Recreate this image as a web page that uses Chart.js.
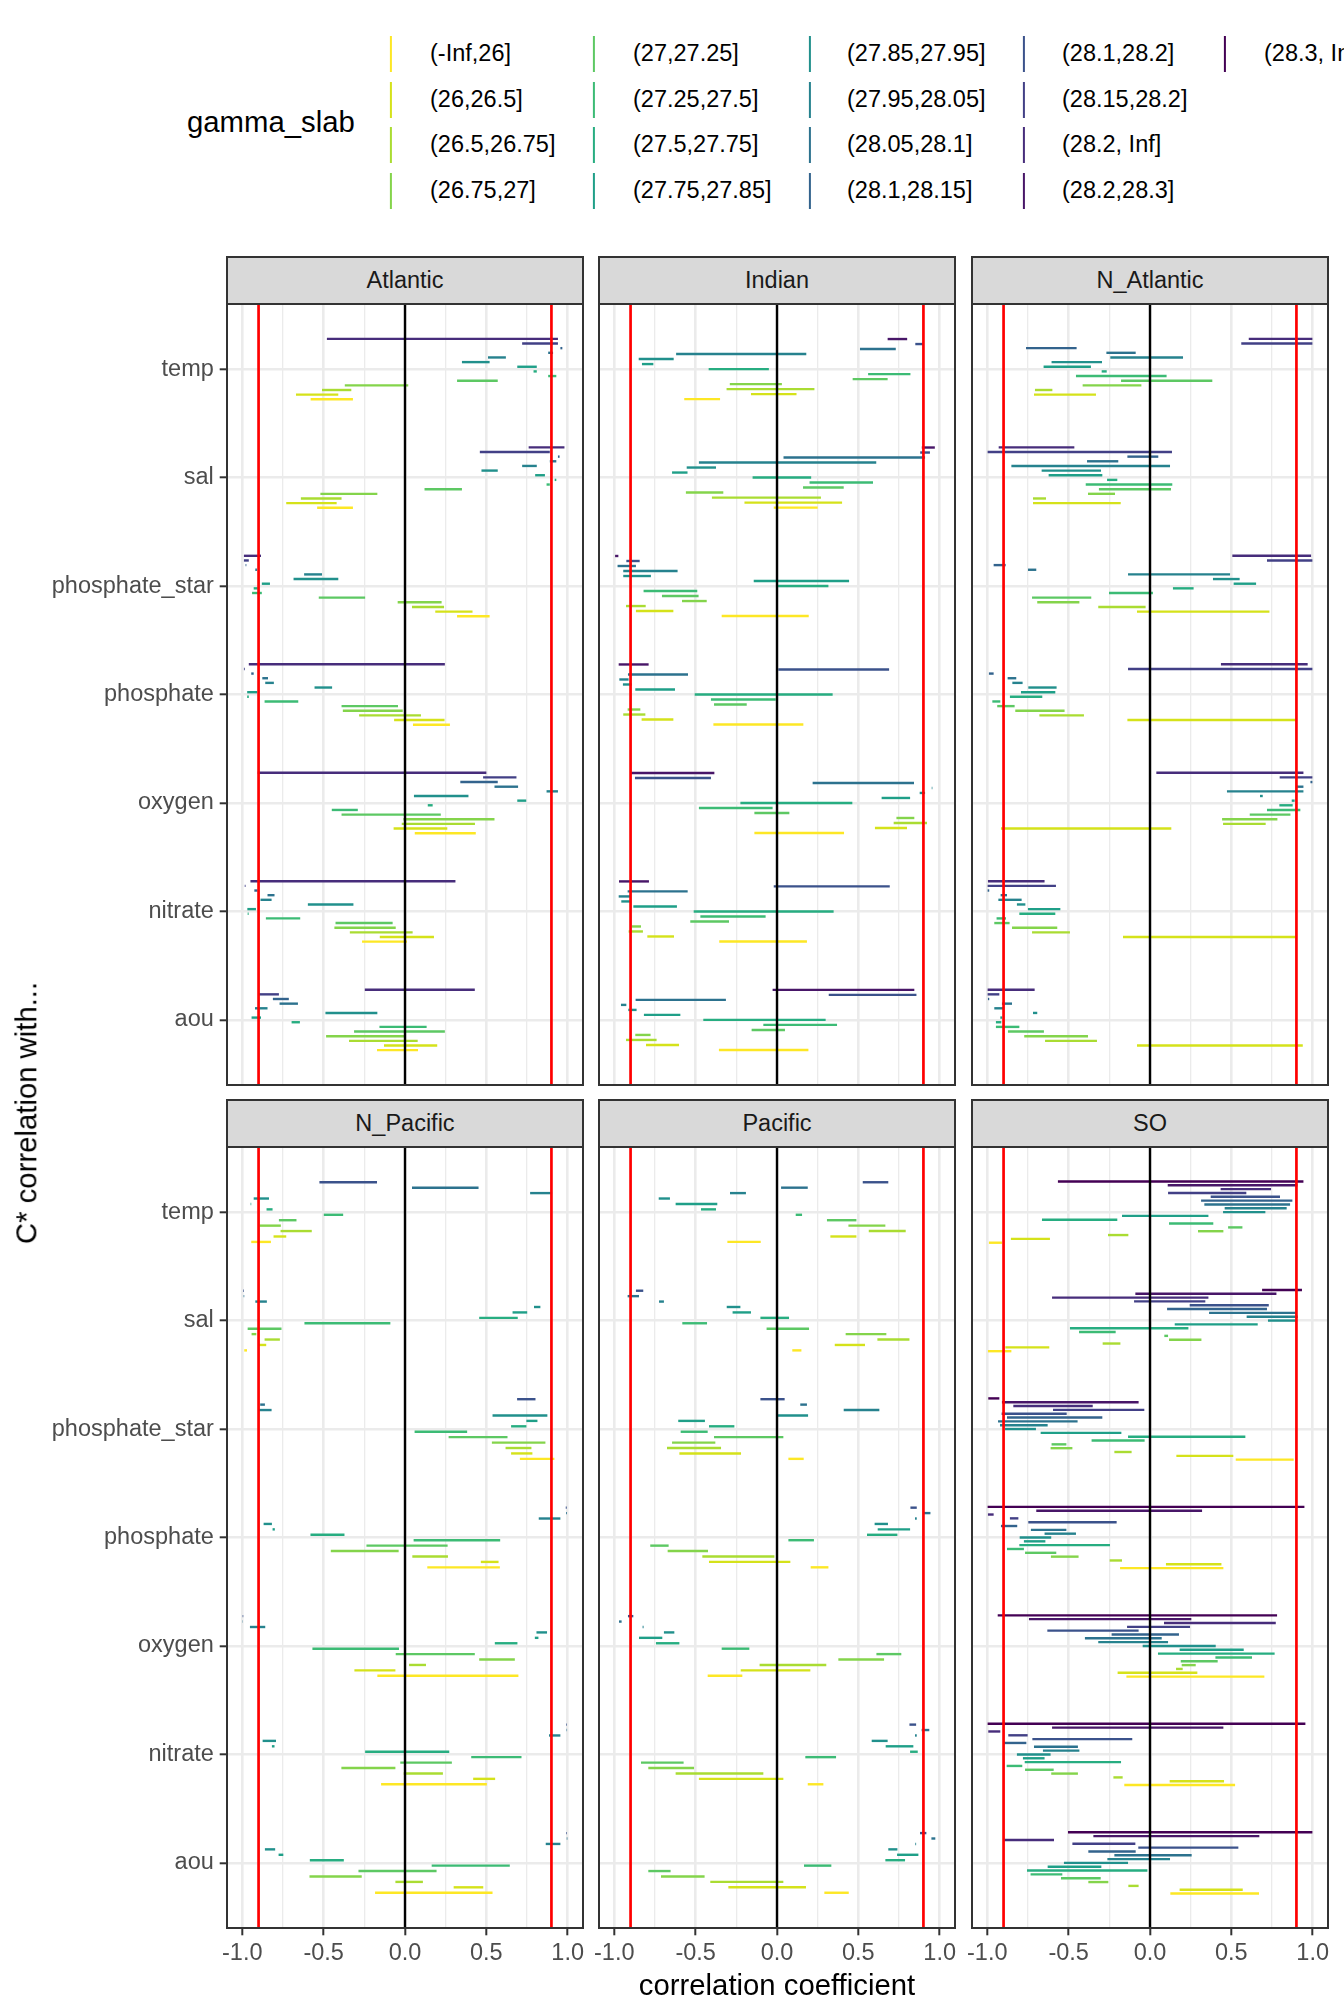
<!DOCTYPE html>
<html><head><meta charset="utf-8">
<script src="https://cdn.jsdelivr.net/npm/chart.js@4.4.1/dist/chart.umd.min.js"></script>
<style>
html,body{margin:0;padding:0;background:#fff;}
body{width:1344px;height:2016px;position:relative;overflow:hidden;font-family:'Liberation Sans',Arial,sans-serif;}
canvas{position:absolute;}
.strip{position:absolute;background:#D9D9D9;border:2px solid #333;box-sizing:border-box;display:flex;align-items:center;justify-content:center;font-size:23.5px;color:#1A1A1A;}
.lt{position:absolute;font-size:23.5px;color:#000;line-height:1;white-space:nowrap;transform:translateY(-50%);}
.key{position:absolute;width:2.2px;height:36px;transform:translate(-50%,-50%);}
.ttl{position:absolute;white-space:nowrap;line-height:1;color:#000;font-size:29.3px;}
</style></head><body>
<script>
// ---------------- data ----------------
const variables = ['temp','sal','phosphate_star','phosphate','oxygen','nitrate','aou'];
const slabLabels = ['(-Inf,26]','(26,26.5]','(26.5,26.75]','(26.75,27]','(27,27.25]','(27.25,27.5]','(27.5,27.75]','(27.75,27.85]','(27.85,27.95]','(27.95,28.05]','(28.05,28.1]','(28.1,28.15]','(28.1,28.2]','(28.15,28.2]','(28.2, Inf]','(28.2,28.3]','(28.3, Inf]'];
const viridis17 = ['#440154','#481668','#472D7B','#424086','#3B528B','#33638D','#2C728E','#26828E','#21908C','#1F9F88','#27AD81','#3CBB75','#5DC863','#84D44B','#AADC32','#D5E21A','#FDE725'];
const refLines = [-0.9, 0, 0.9];
const refColors = ['#FF0000','#000000','#FF0000'];
const xMajor = [-1,-0.5,0,0.5,1];
const xMinor = [-0.75,-0.25,0.25,0.75];
const xTickLabels = ['-1.0','-0.5','0.0','0.5','1.0'];
const facetNames = ['Atlantic','Indian','N_Atlantic','N_Pacific','Pacific','SO'];

// slab levels present per basin (top to bottom)
const atlanticLevels = [15,14,12,11,10,9,8,7,6,5,4,3,2,1];
const indianLevels = [16,13,11,10,9,8,7,6,5,4,3,2,1];
const nAtlanticLevels = [15,14,12,11,10,9,8,7,6,5,4,3,2,1];
const nPacificLevels = [13,11,10,9,8,7,6,5,4,3,2,1];
const pacificLevels = [13,11,10,9,8,7,6,5,4,3,2,1];
const soLevels = [17,16,15,14,13,12,11,10,9,8,7,6,5,4,3,2,1];

// correlation ranges [min,max], one per slab (top to bottom)
const atlTemp = [[-0.48,0.94],[0.72,0.94],[0.955,0.967],[0.88,0.91],[0.51,0.62],[0.35,0.52],[0.69,0.81],[0.79,0.81],[0.88,0.93],[0.32,0.57],[-0.37,0.02],[-0.51,-0.33],[-0.67,-0.41],[-0.58,-0.32]];
const atlSal = [[0.76,0.98],[0.46,0.89],[0.94,0.95],[0.89,0.93],[0.72,0.81],[0.47,0.57],[0.80,0.86],[0.92,0.93],[0.87,0.89],[0.12,0.35],[-0.52,-0.17],[-0.64,-0.39],[-0.73,-0.42],[-0.54,-0.32]];
const atlPstar = [[-0.99,-0.885],[-0.99,-0.96],[-0.98,-0.975],[-0.92,-0.91],[-0.62,-0.51],[-0.685,-0.41],[-0.88,-0.83],[-0.93,-0.905],[-0.94,-0.88],[-0.53,-0.245],[-0.045,0.225],[0.043,0.24],[0.186,0.415],[0.32,0.52]];
const atlPhos = [[-0.96,0.245],[-0.99,-0.985],[-0.945,-0.93],[-0.877,-0.842],[-0.859,-0.806],[-0.556,-0.448],[-0.97,-0.908],[-0.97,-0.96],[-0.863,-0.656],[-0.39,-0.043],[-0.382,-0.014],[-0.282,0.098],[-0.067,0.243],[0.049,0.276]];
const atlOxy = [[-0.905,0.50],[0.48,0.685],[0.34,0.57],[0.55,0.695],[0.87,0.94],[0.055,0.39],[0.69,0.745],[0.14,0.17],[-0.45,-0.29],[-0.39,0.22],[-0.01,0.55],[-0.02,0.43],[-0.07,0.26],[0.06,0.435]];
const atlNit = [[-0.95,0.31],[-0.985,-0.98],[-0.926,-0.906],[-0.845,-0.802],[-0.888,-0.82],[-0.597,-0.317],[-0.969,-0.916],[-0.967,-0.961],[-0.855,-0.644],[-0.427,-0.076],[-0.434,-0.057],[-0.339,0.047],[-0.155,0.178],[-0.264,0.012]];
const atlAou = [[-0.247,0.429],[-0.9,-0.775],[-0.812,-0.714],[-0.771,-0.658],[-0.922,-0.845],[-0.489,-0.17],[-0.943,-0.885],[-0.697,-0.646],[-0.157,0.133],[-0.313,0.245],[-0.485,0.006],[-0.344,0.078],[-0.129,0.198],[-0.172,0.08]];

const indTemp = [[0.68,0.80],[0.85,0.90],[0.51,0.73],[-0.62,0.18],[-0.85,-0.635],[-0.83,-0.76],[-0.42,-0.05],[0.56,0.82],[0.465,0.68],[-0.29,0.03],[-0.31,0.23],[-0.16,0.12],[-0.57,-0.35]];
const indSal = [[0.89,0.97],[0.88,0.94],[0.04,0.91],[-0.48,0.61],[-0.555,-0.375],[-0.645,-0.55],[-0.15,0.21],[0.20,0.59],[0.16,0.41],[-0.56,-0.33],[-0.40,0.27],[-0.20,0.40],[-0.02,0.25]];
const indPstar = [[-0.995,-0.975],[-0.926,-0.844],[-0.98,-0.867],[-0.945,-0.611],[-0.945,-0.775],[-0.143,0.443],[-0.004,0.316],[-0.82,-0.49],[-0.707,-0.482],[-0.584,-0.432],[-0.928,-0.807],[-0.867,-0.637],[-0.34,0.195]];
const indPhos = [[-0.973,-0.789],[0.0,0.689],[-0.916,-0.547],[-0.969,-0.912],[-0.947,-0.893],[-0.871,-0.627],[-0.506,0.342],[-0.406,-0.008],[-0.387,-0.186],[-0.918,-0.84],[-0.945,-0.809],[-0.832,-0.637],[-0.391,0.162]];
const indOxy = [[-0.898,-0.385],[-0.873,-0.406],[0.219,0.842],[0.951,0.955],[0.877,0.91],[0.643,0.818],[-0.225,0.463],[-0.48,-0.027],[-0.139,0.076],[0.734,0.844],[0.717,0.922],[0.602,0.799],[-0.139,0.412]];
const indNit = [[-0.971,-0.787],[-0.02,0.693],[-0.918,-0.549],[-0.973,-0.902],[-0.957,-0.898],[-0.883,-0.615],[-0.512,0.348],[-0.471,-0.07],[-0.533,-0.295],[-0.891,-0.836],[-0.912,-0.824],[-0.797,-0.633],[-0.355,0.184]];
const indAou = [[-0.027,0.844],[0.318,0.857],[-0.869,-0.314],[-0.959,-0.926],[-0.914,-0.863],[-0.818,-0.594],[-0.453,0.299],[-0.084,0.369],[-0.156,0.049],[-0.871,-0.777],[-0.928,-0.74],[-0.805,-0.602],[-0.357,0.193]];

const natTemp = [[0.607,0.998],[0.561,0.998],[-0.762,-0.451],[-0.268,-0.088],[-0.244,0.203],[-0.605,-0.295],[-0.654,-0.363],[-0.297,-0.266],[-0.455,0.102],[-0.178,0.383],[-0.414,-0.053],[-0.707,-0.6],[-0.713,-0.332],null];
const natSal = [[-0.93,-0.465],[-0.998,0.135],[-0.139,0.051],[-0.387,-0.195],[-0.852,0.123],[-0.666,-0.301],[-0.623,-0.293],[-0.264,-0.201],[-0.395,0.137],[-0.314,0.129],[-0.381,-0.215],[-0.719,-0.639],[-0.719,-0.18],null];
const natPstar = [[0.506,0.99],[0.719,0.998],[-0.961,-0.887],[-0.75,-0.699],[-0.135,0.492],[0.387,0.551],[0.514,0.652],[0.141,0.268],[-0.252,0.018],[-0.725,-0.361],[-0.693,-0.434],[-0.318,-0.027],[-0.08,0.734],null];
const natPhos = [[0.436,0.969],[-0.135,0.998],[-0.99,-0.961],[-0.875,-0.822],[-0.846,-0.783],[-0.748,-0.574],[-0.793,-0.582],[-0.861,-0.662],[-0.969,-0.92],[-0.939,-0.832],[-0.828,-0.525],[-0.68,-0.406],[-0.139,0.896],null];
const natOxy = [[0.039,0.943],[0.797,0.998],[0.986,0.998],[0.9,0.943],[0.473,0.943],[0.676,0.693],[0.871,0.889],[0.795,0.877],[0.719,0.924],[0.613,0.863],[0.443,0.783],[0.449,0.711],[-0.916,0.131],null];
const natNit = [[-0.996,-0.648],[-0.998,-0.578],[-0.998,-0.988],[-0.918,-0.879],[-0.932,-0.789],[-0.818,-0.766],[-0.75,-0.551],[-0.803,-0.582],[-0.943,-0.885],[-0.957,-0.863],[-0.848,-0.57],[-0.725,-0.492],[-0.166,0.9],null];
const natAou = [[-0.998,-0.709],[-0.998,-0.926],[-0.996,-0.988],[-0.91,-0.848],[-0.957,-0.902],[-0.719,-0.693],[-0.92,-0.908],[-0.947,-0.914],[-0.947,-0.803],[-0.873,-0.652],[-0.773,-0.381],[-0.645,-0.326],[-0.08,0.939],null];

const npTemp = [[-0.526,-0.172],[0.043,0.452],[0.769,0.904],[-0.93,-0.836],[-0.949,-0.945],[-0.851,-0.814],[-0.499,-0.38],[-0.775,-0.667],[-0.894,-0.763],[-0.765,-0.573],[-0.808,-0.73],[-0.945,-0.824]];
const npSal = [[-0.994,-0.99],[-0.992,-0.988],[-0.92,-0.849],[0.793,0.832],[0.661,0.751],[0.456,0.693],[-0.618,-0.09],[-0.967,-0.759],[-0.943,-0.914],[-0.863,-0.769],[-0.9,-0.853],[-0.988,-0.971]];
const npPstar = [[0.689,0.802],[-0.89,-0.861],[-0.9,-0.82],[0.538,0.875],[0.746,0.814],[0.652,0.746],[0.059,0.382],[0.268,0.63],[0.534,0.863],[0.618,0.777],[0.652,0.783],[0.706,0.918]];
const npPhos = [[0.988,0.994],[0.99,0.995],[0.822,0.955],[-0.869,-0.818],[-0.814,-0.8],[-0.581,-0.372],[0.053,0.585],[-0.237,0.262],[-0.456,-0.039],[0.045,0.264],[0.466,0.575],[0.137,0.583]];
const npOxy = [[-0.998,-0.994],[-0.998,-0.996],[-0.953,-0.859],[0.808,0.873],[0.798,0.82],[0.552,0.691],[-0.569,-0.037],[-0.057,0.429],[0.456,0.675],[0.025,0.129],[-0.311,-0.059],[-0.17,0.697]];
const npNit = [[0.99,0.994],[0.993,0.996],[0.885,0.955],[-0.875,-0.793],[-0.818,-0.802],[-0.245,0.272],[0.407,0.716],[-0.029,0.288],[-0.391,-0.059],[-0.008,0.233],[0.419,0.554],[-0.147,0.503]];
const npAou = [[0.99,0.994],[0.994,0.998],[0.865,0.955],[-0.861,-0.798],[-0.777,-0.748],[-0.585,-0.376],[0.164,0.644],[-0.286,0.194],[-0.587,-0.266],[-0.059,0.11],[0.299,0.481],[-0.184,0.538]];

const pacTemp = [[0.527,0.684],[0.025,0.189],[-0.289,-0.191],[-0.727,-0.658],[-0.623,-0.367],[-0.467,-0.375],[0.115,0.154],[0.307,0.488],[0.439,0.666],[0.564,0.791],[0.328,0.488],[-0.305,-0.1]];
const pacSal = [[-0.867,-0.822],[-0.918,-0.848],[-0.725,-0.695],[-0.309,-0.225],[-0.273,-0.16],[-0.102,0.074],[-0.582,-0.43],[-0.064,0.197],[0.422,0.672],[0.617,0.814],[0.355,0.541],[0.094,0.15]];
const pacPstar = [[-0.102,0.047],[0.143,0.184],[0.41,0.629],[-0.006,0.191],[-0.607,-0.443],[-0.418,-0.262],[-0.592,-0.426],[-0.387,0.039],[-0.645,-0.379],[-0.676,-0.344],[-0.6,-0.221],[0.07,0.164]];
const pacPhos = [[0.82,0.859],[0.9,0.943],[0.848,0.859],[0.6,0.682],[0.619,0.818],[0.553,0.74],[0.07,0.227],[-0.779,-0.666],[-0.672,-0.424],[-0.459,-0.016],[-0.418,0.082],[0.207,0.316]];
const pacOxy = [[-0.916,-0.883],[-0.971,-0.955],[-0.826,-0.82],[-0.695,-0.631],[-0.848,-0.705],[-0.744,-0.6],[-0.34,-0.17],[0.611,0.764],[0.377,0.658],[-0.107,0.303],[-0.223,0.205],[-0.426,-0.213]];
const pacNit = [[0.814,0.855],[0.889,0.936],[0.848,0.859],[0.582,0.68],[0.668,0.838],[0.818,0.865],[0.174,0.363],[-0.836,-0.574],[-0.791,-0.51],[-0.623,-0.084],[-0.48,0.039],[0.189,0.285]];
const pacAou = [[0.879,0.918],[0.949,0.973],[0.85,0.855],[0.684,0.74],[0.738,0.869],[0.666,0.787],[0.166,0.334],[-0.791,-0.654],[-0.713,-0.445],[-0.41,0.039],[-0.299,0.178],[0.291,0.441]];

const soTemp = [[-0.566,0.943],[0.109,0.906],[0.434,0.744],[0.111,0.592],[0.373,0.799],[0.314,0.875],[0.334,0.861],[0.459,0.84],[0.449,0.709],[-0.172,0.359],[-0.664,-0.201],[0.117,0.389],[0.48,0.568],[0.295,0.451],[-0.258,-0.133],[-0.855,-0.615],[-0.99,-0.91]];
const soSal = [[0.689,0.934],[-0.09,0.777],[-0.602,0.359],[-0.098,0.34],[0.244,0.73],[0.105,0.719],[0.363,0.9],[0.594,0.908],[0.725,0.904],[0.152,0.662],[-0.492,0.236],[-0.436,-0.211],[0.088,0.111],[0.117,0.316],[-0.291,-0.182],[-0.889,-0.619],[-0.996,-0.852]];
const soPstar = [[-0.994,-0.926],[-0.91,-0.07],[-0.84,-0.352],[-0.596,-0.035],[-0.912,-0.512],[-0.879,-0.293],[-0.934,-0.445],[-0.922,-0.629],[-0.891,-0.701],[-0.672,-0.176],[-0.135,0.586],[-0.359,-0.033],[-0.605,-0.514],[-0.611,-0.477],[-0.219,-0.113],[0.162,0.512],[0.527,0.883]];
const soPhos = [[-0.998,0.949],[-0.699,0.32],[-0.996,-0.961],[-0.861,-0.809],[-0.748,-0.205],[-0.916,-0.816],[-0.732,-0.514],[-0.648,-0.455],[-0.801,-0.607],[-0.775,-0.643],[-0.803,-0.246],[-0.879,-0.775],[-0.768,-0.576],[-0.609,-0.439],[-0.248,-0.172],[0.098,0.439],[-0.184,0.451]];
const soOxy = [[-0.936,0.781],[-0.744,0.254],[0.086,0.773],[-0.141,0.246],[-0.631,-0.07],[-0.236,0.178],[-0.4,0.072],[-0.318,0.111],[-0.045,0.404],[0.182,0.576],[0.049,0.766],[0.402,0.627],[0.189,0.416],[0.195,0.281],[0.16,0.201],[-0.199,0.291],[-0.145,0.703]];
const soNit = [[-0.998,0.955],[-0.602,0.451],[-0.994,-0.92],[-0.871,-0.752],[-0.723,-0.109],[-0.898,-0.76],[-0.713,-0.443],[-0.658,-0.434],[-0.818,-0.611],[-0.781,-0.648],[-0.77,-0.178],[-0.881,-0.785],[-0.768,-0.592],[-0.607,-0.443],[-0.225,-0.168],[0.121,0.455],[-0.158,0.523]];
const soAou = [[-0.504,0.998],[-0.348,0.672],[-0.9,-0.59],[-0.477,-0.09],[-0.072,0.543],[-0.379,-0.088],[-0.219,0.256],[-0.262,0.123],[-0.529,-0.135],[-0.629,-0.299],[-0.756,-0.016],[-0.734,-0.539],[-0.547,-0.303],[-0.379,-0.256],[-0.133,-0.07],[0.182,0.57],[0.125,0.67]];

// ---------------- layout ----------------
const FONT = "'Liberation Sans', Arial, sans-serif";
const colLeft = [227, 599, 972];
const rowTop = [304, 1147];
const PW = 356, PH = 781, STRIP_H = 47;

const panels = [
  {levels: atlanticLevels, rows: [atlTemp, atlSal, atlPstar, atlPhos, atlOxy, atlNit, atlAou], col: 0, row: 0},
  {levels: indianLevels, rows: [indTemp, indSal, indPstar, indPhos, indOxy, indNit, indAou], col: 1, row: 0},
  {levels: nAtlanticLevels, rows: [natTemp, natSal, natPstar, natPhos, natOxy, natNit, natAou], col: 2, row: 0},
  {levels: nPacificLevels, rows: [npTemp, npSal, npPstar, npPhos, npOxy, npNit, npAou], col: 0, row: 1},
  {levels: pacificLevels, rows: [pacTemp, pacSal, pacPstar, pacPhos, pacOxy, pacNit, pacAou], col: 1, row: 1},
  {levels: soLevels, rows: [soTemp, soSal, soPstar, soPhos, soOxy, soNit, soAou], col: 2, row: 1}
];

const isMajor = v => Math.abs(v * 2 - Math.round(v * 2)) < 1e-9;

const refLinePlugin = {
  id: 'refLines',
  afterDatasetsDraw(chart) {
    const {ctx, chartArea: a, scales: {x}} = chart;
    ctx.save();
    refLines.forEach((v, k) => {
      const px = x.getPixelForValue(v);
      ctx.strokeStyle = refColors[k];
      ctx.lineWidth = k === 1 ? 2.4 : 2.7;
      ctx.beginPath(); ctx.moveTo(px, a.top); ctx.lineTo(px, a.bottom); ctx.stroke();
    });
    ctx.restore();
  }
};
const borderPlugin = {
  id: 'panelBorder',
  afterDraw(chart) {
    const {ctx, chartArea: a} = chart;
    ctx.save();
    ctx.strokeStyle = '#333333'; ctx.lineWidth = 2;
    ctx.strokeRect(a.left, a.top, a.right - a.left, a.bottom - a.top);
    ctx.restore();
  }
};

panels.forEach((p, pi) => {
  const isLeft = p.col === 0, isBottom = p.row === 1;
  const M = 20, XH = 50;
  const cLeft = isLeft ? 0 : colLeft[p.col] - M;
  const cTop = rowTop[p.row] - M;
  const cW = (isLeft ? colLeft[0] : M) + PW + M;
  const cH = M + PH + (isBottom ? XH : M);
  const cv = document.createElement('canvas');
  cv.width = cW; cv.height = cH;
  cv.style.left = cLeft + 'px'; cv.style.top = cTop + 'px';
  cv.style.width = cW + 'px'; cv.style.height = cH + 'px';
  document.body.appendChild(cv);

  const datasets = p.levels.map((L, j) => ({
    label: slabLabels[L - 1],
    data: p.rows.map((r, i) => (r[j] ? {x: r[j], y: i} : null)).filter(Boolean),
    backgroundColor: viridis17[17 - L],
    borderWidth: 0,
    inflateAmount: 0,
    barPercentage: 1,
    categoryPercentage: 0.6,
    maxBarThickness: 2.4
  }));

  new Chart(cv, {
    type: 'bar',
    data: {datasets},
    options: {
      indexAxis: 'y',
      responsive: false,
      animation: false,
      devicePixelRatio: 1,
      layout: {padding: {left: isLeft ? 0 : M, right: M, top: M, bottom: isBottom ? 0 : M}},
      plugins: {legend: {display: false}, tooltip: {enabled: false}},
      scales: {
        x: {
          type: 'linear', min: -1.094, max: 1.094, position: 'bottom',
          afterBuildTicks: s => { s.ticks = xMajor.concat(xMinor).sort((a, b) => a - b).map(v => ({value: v})); },
          afterFit: s => { s.height = isBottom ? XH : 0; s.paddingLeft = 0; s.paddingRight = 0; },
          grid: {
            color: '#EBEBEB',
            lineWidth: c => (c.tick && isMajor(c.tick.value)) ? 2.6 : 1.3,
            drawTicks: isBottom, tickLength: 7.3,
            tickColor: c => (c.tick && isMajor(c.tick.value)) ? '#333333' : 'rgba(0,0,0,0)',
            tickWidth: 2
          },
          border: {display: false},
          ticks: {
            display: isBottom, autoSkip: false, maxRotation: 0, minRotation: 0, padding: 4,
            color: '#4D4D4D', font: {family: FONT, size: 23.5},
            callback: v => { const k = xMajor.indexOf(v); return k >= 0 ? xTickLabels[k] : ''; }
          }
        },
        y: {
          type: 'linear', min: -0.6, max: 6.6, reverse: true, offset: false,
          afterBuildTicks: s => { s.ticks = variables.map((v, i) => ({value: i})); },
          afterFit: s => { s.width = isLeft ? colLeft[0] : 0; s.paddingTop = 0; s.paddingBottom = 0; },
          grid: {offset: false, color: '#EBEBEB', lineWidth: 2.6, drawTicks: isLeft, tickLength: 7.3, tickColor: '#333333', tickWidth: 2},
          border: {display: false},
          ticks: {
            display: isLeft, autoSkip: false, padding: 5.9,
            color: '#4D4D4D', font: {family: FONT, size: 23.5},
            callback: v => variables[v]
          }
        }
      }
    },
    plugins: [refLinePlugin, borderPlugin]
  });

  const st = document.createElement('div');
  st.className = 'strip';
  st.style.left = (colLeft[p.col] - 1) + 'px';
  st.style.top = (rowTop[p.row] - STRIP_H - 1) + 'px';
  st.style.width = (PW + 2) + 'px';
  st.style.height = (STRIP_H + 2) + 'px';
  st.textContent = facetNames[pi];
  document.body.appendChild(st);
});

// axis titles
const xt = document.createElement('div');
xt.className = 'ttl'; xt.textContent = 'correlation coefficient';
xt.style.left = '777px'; xt.style.top = '1985px'; xt.style.transform = 'translate(-50%,-50%)';
document.body.appendChild(xt);
const yt = document.createElement('div');
yt.className = 'ttl'; yt.textContent = 'C* correlation with...';
yt.style.left = '26px'; yt.style.top = '1113px'; yt.style.transform = 'translate(-50%,-50%) rotate(-90deg)';
document.body.appendChild(yt);

// legend
const lgTitle = document.createElement('div');
lgTitle.className = 'ttl'; lgTitle.textContent = 'gamma_slab';
lgTitle.style.left = '187px'; lgTitle.style.top = '122px'; lgTitle.style.transform = 'translateY(-50%)';
document.body.appendChild(lgTitle);
const keyX = [391, 594, 809.5, 1023.5, 1225];
const textX = [430, 633, 847, 1062, 1264];
const rowY = [53.5, 99.5, 144.5, 190.5];
slabLabels.forEach((lab, k) => {
  const c = Math.floor(k / 4), r = k % 4;
  const key = document.createElement('div');
  key.className = 'key';
  key.style.left = keyX[c] + 'px'; key.style.top = rowY[r] + 'px';
  key.style.background = viridis17[16 - k];
  document.body.appendChild(key);
  const t = document.createElement('div');
  t.className = 'lt'; t.textContent = lab;
  t.style.left = textX[c] + 'px'; t.style.top = rowY[r] + 'px';
  document.body.appendChild(t);
});
</script>
</body></html>
